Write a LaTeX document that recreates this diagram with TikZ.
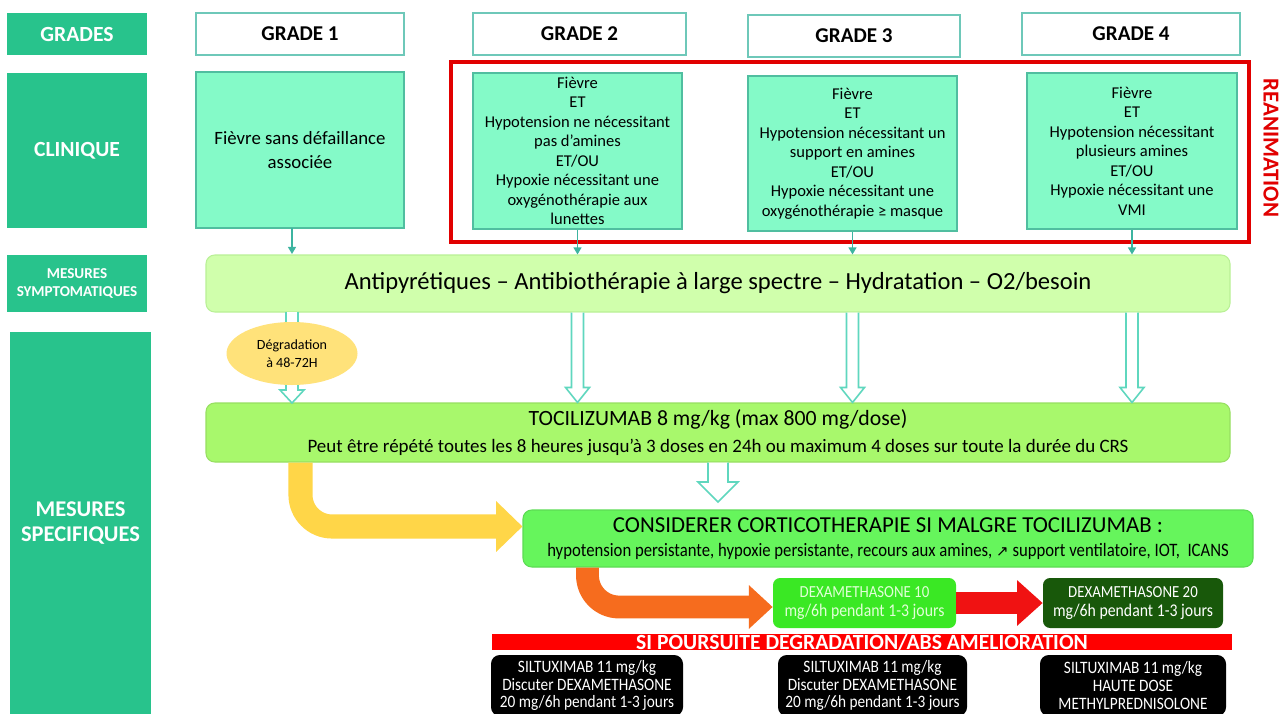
\documentclass[tikz,border=0pt]{standalone}
\usepackage{fontspec}
\setmainfont{Carlito}
\newfontfamily\narrowfont[FakeStretch=0.88]{Carlito}
\newfontfamily\arrowfont{DejaVu Sans}
\usepackage{xcolor}
\usetikzlibrary{shapes.geometric, arrows.meta, positioning, calc}

\definecolor{hdrgreen}{RGB}{40,195,140}
\definecolor{gradeline}{RGB}{110,200,185}
\definecolor{mint}{RGB}{132,250,200}
\definecolor{mintline}{RGB}{80,190,160}
\definecolor{palegreen}{RGB}{208,255,172}
\definecolor{paleline}{RGB}{185,240,150}
\definecolor{tocigreen}{RGB}{168,248,108}
\definecolor{cortgreen}{RGB}{102,245,92}
\definecolor{dexlight}{RGB}{58,232,36}
\definecolor{dexdark}{RGB}{24,88,10}
\definecolor{dextext}{RGB}{225,255,215}
\definecolor{hollowline}{RGB}{95,215,190}
\definecolor{smallline}{RGB}{60,180,160}
\definecolor{ellfill}{RGB}{255,226,122}
\definecolor{yelarrow}{RGB}{255,214,72}
\definecolor{orgarrow}{RGB}{246,108,30}
\definecolor{redarrow}{RGB}{240,18,18}
\definecolor{reared}{RGB}{225,0,0}

\newcommand{\sz}[2]{\fontsize{#1}{#2}\selectfont}
\newcommand{\hollowdown}[5]{%
	\draw[hollowarr] ($(#1)+(-#3,0)$) -- ($(#2)+(-#3,-#5)$) -- ($(#2)+(-#4,-#5)$) -- (#2) -- ($(#2)+(#4,-#5)$) -- ($(#2)+(#3,-#5)$) -- ($(#1)+(#3,0)$);
}

\tikzset{
	box/.style 2 args={minimum width=#1*0.02cm, minimum height=#2*0.02cm, inner sep=0pt, align=center},
	hdr/.style={fill=hdrgreen, text=white},
	gradebox/.style={draw=gradeline, fill=white, line width=0.8pt, font=\sz{12}{14}\bfseries},
	clinbox/.style={draw=mintline, fill=mint, line width=0.6pt, font=\sz{9.4}{11.1}},
	barbox/.style={rounded corners=5pt, line width=0.6pt},
	dexbox/.style={rounded corners=4pt, font=\narrowfont\sz{10.2}{10.8}},
	silbox/.style={fill=black, text=white, rounded corners=5pt, font=\narrowfont\sz{9.9}{10.2}},
	hollowarr/.style={draw=hollowline, fill=white, line width=0.9pt, line join=miter},
	smallarr/.style={draw=smallline, line width=0.8pt, -{Triangle[length=4pt, width=4.5pt]}},
	fatarr/.style={line width=#1, rounded corners=18pt},
	reabox/.style={draw=reared, line width=2.2pt},
}

\begin{document}
\begin{tikzpicture}[x=0.02cm, y=-0.02cm]
	\useasboundingbox (0,0) rectangle (1287,713);
	\clip (0,0) rectangle (1287,713);
	\fill[white] (0,0) rectangle (1287,713);

	\node[hdr, box={140}{42}, font=\sz{12.3}{13}\bfseries] (grades) at (77,34) {GRADES};
	\node[hdr, box={140}{155}, font=\sz{12.3}{13}\bfseries] (clin) at (77,150.5) {CLINIQUE};
	\node[hdr, box={140}{57}, font=\sz{8.6}{10.5}\bfseries] (symp) at (77,283.5) {MESURES\\SYMPTOMATIQUES};
	\node[hdr, box={141}{383}, font=\sz{12.8}{14.2}\bfseries] (spec) at (80.5,523) {MESURES\\SPECIFIQUES};

	\node[gradebox, box={208}{42}] (g1) at (300,34) {GRADE 1};
	\node[gradebox, box={213}{42}] (g2) at (579.5,34) {GRADE 2};
	\node[gradebox, box={212}{42}] (g3) at (854,36) {GRADE 3};
	\node[gradebox, box={218}{42}] (g4) at (1131,34) {GRADE 4};

	\node[clinbox, box={208}{156}, font=\sz{10.7}{14}] (c1) at (300,150) {Fièvre sans défaillance\\associée};
	\node[clinbox, box={209}{156}] (c2) at (577.5,151) {Fièvre\\ET\\Hypotension ne nécessitant\\pas d’amines\\ET/OU\\Hypoxie nécessitant une\\oxygénothérapie aux\\lunettes};
	\node[clinbox, box={209}{155}] (c3) at (852.5,153.5) {Fièvre\\ET\\Hypotension nécessitant un\\support en amines\\ET/OU\\Hypoxie nécessitant une\\oxygénothérapie ≥ masque};
	\node[clinbox, box={210}{156}] (c4) at (1132,151) {Fièvre\\ET\\Hypotension nécessitant\\plusieurs amines\\ET/OU\\Hypoxie nécessitant une\\VMI};

	\draw[reabox] (451,62) rectangle (1249,242);
	\node[text=reared, font=\sz{13}{14}\bfseries, rotate=-90] (rea) at (1271,148) {REANIMATION};

	\node[barbox, fill=palegreen, draw=paleline, box={1024}{57}, font=\sz{14}{16}] (symbar) at (718,283.5) {Antipyrétiques – Antibiothérapie à large spectre – Hydratation – O2/besoin};
	\node[barbox, fill=tocigreen, draw=tocigreen!90!black, box={1024}{59}, font=\sz{10.8}{15}] (toci) at (718,432.5) {{\sz{12.4}{15}TOCILIZUMAB 8 mg/kg (max 800 mg/dose)}\\Peut être répété toutes les 8 heures jusqu’à 3 doses en 24h ou maximum 4 doses sur toute la durée du CRS};
	\node[barbox, fill=cortgreen, draw=cortgreen!90!black, box={730}{57}, font=\narrowfont\sz{10.8}{13.5}] (cort) at (888,538.5) {{\normalfont\sz{13}{13.5}CONSIDERER CORTICOTHERAPIE SI MALGRE TOCILIZUMAB :}\\hypotension persistante, hypoxie persistante, recours aux amines, {\arrowfont\sz{8.5}{13.5}↗} support ventilatoire, IOT,~ ICANS};

	\draw[smallarr] (292,228) -- (292,254);
	\foreach \c in {c2,c3,c4}
		\draw[smallarr] (\c.south) -- (\c.south |- symbar.north);

	\coordinate (degtop) at (292,312);
	\coordinate (degtip) at (292,403);
	\hollowdown{degtop}{degtip}{6}{12}{13}
	\foreach \c in {c2,c3,c4}
		\hollowdown{\c.south |- symbar.south}{\c.south |- toci.north}{6}{12}{15}
	\coordinate (cortgap) at (718,502);
	\hollowdown{toci.south}{cortgap}{10}{20}{20}

	\node[ellipse, fill=ellfill, minimum width=131*0.02cm, minimum height=63*0.02cm, inner sep=0pt, align=center, font=\sz{8}{10.4}] (degr) at (292,353.5) {Dégradation\\à 48-72H};

	\node[dexbox, fill=dexlight, text=dextext, box={183}{50}] (dex10) at (864.5,603) {{\sz{9.6}{10.8}DEXAMETHASONE 10}\\mg/6h pendant 1-3 jours};
	\node[dexbox, fill=dexdark, text=white, box={180}{50}] (dex20) at (1133,603) {{\sz{9.6}{10.8}DEXAMETHASONE 20}\\mg/6h pendant 1-3 jours};

	\draw[fatarr=13.7pt, draw=yelarrow, -{Triangle[length=15pt, width=28pt]}] ($(toci.south west)+(95,0)$) |- ($(cort.west)+(0,-12)$);
	\draw[fatarr=13pt, draw=orgarrow, -{Triangle[length=13.5pt, width=24pt]}] ($(cort.south west)+(65,0)$) |- ($(dex10.west)+(0,4)$);
	\draw[fatarr=12pt, draw=redarrow, -{Triangle[length=14.5pt, width=25pt]}] (dex10.east) -- (dex20.west);

	\node[fill=red, text=white, box={740}{16}, text height=8.6pt, text depth=0.5pt, font=\sz{12.3}{13}\bfseries] (banner) at (862,642) {SI POURSUITE DEGRADATION/ABS AMELIORATION};

	\node[silbox, box={192}{61}] (sil1) at (587,685.5) {SILTUXIMAB 11 mg/kg\\Discuter DEXAMETHASONE\\20 mg/6h pendant 1-3 jours};
	\node[silbox, box={189}{61}] (sil2) at (872.5,685.5) {SILTUXIMAB 11 mg/kg\\Discuter DEXAMETHASONE\\20 mg/6h pendant 1-3 jours};
	\node[silbox, box={186}{61}] (sil3) at (1133,685.5) {SILTUXIMAB 11 mg/kg\\HAUTE DOSE\\METHYLPREDNISOLONE};
\end{tikzpicture}
\end{document}
